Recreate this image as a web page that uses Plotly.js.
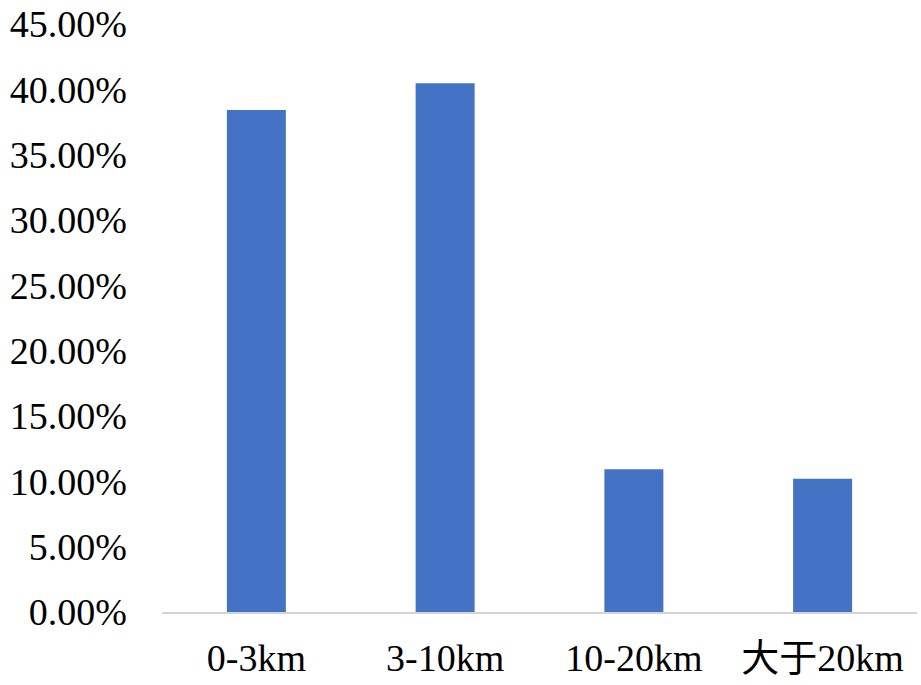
<!DOCTYPE html>
<html>
<head>
<meta charset="utf-8">
<script src="https://cdn.plot.ly/plotly-3.0.1.min.js"></script>
<style>html,body{margin:0;padding:0;background:#fff;}#chart{width:921px;height:685px;}</style>
</head>
<body>
<div id="chart"></div>
<script>
const categories = ["0-3km", "3-10km", "10-20km", "大于20km"];
const shares = [0.3841, 0.4047, 0.1093, 0.1020];
const yTickVals = [0, 0.05, 0.10, 0.15, 0.20, 0.25, 0.30, 0.35, 0.40, 0.45];
const yTickText = ["0.00%", "5.00%", "10.00%", "15.00%", "20.00%", "25.00%", "30.00%", "35.00%", "40.00%", "45.00%"];

const fontFam = '"Liberation Serif", "Times New Roman", "Noto Sans CJK SC", serif';

const trace = {
  type: "bar",
  x: categories,
  y: shares,
  marker: {color: "#4472C4"},
  hoverinfo: "skip"
};

const layout = {
  width: 921,
  height: 685,
  margin: {l: 162, r: 4, t: 23.5, b: 73.3, pad: 0},
  paper_bgcolor: "#ffffff",
  plot_bgcolor: "#ffffff",
  bargap: 0.6875,
  showlegend: false,
  font: {family: fontFam, size: 38, color: "#000000"},
  xaxis: {
    type: "category",
    showgrid: false,
    zeroline: false,
    showline: true,
    linecolor: "#d4d4d4",
    linewidth: 2,
    ticks: "",
    ticklabelstandoff: 11,
    tickfont: {family: fontFam, size: 38, color: "#000000"}
  },
  yaxis: {
    range: [0, 0.45],
    tickvals: yTickVals,
    ticktext: yTickText,
    showgrid: false,
    zeroline: false,
    showline: false,
    ticks: "",
    ticklabelstandoff: 34,
    tickfont: {family: fontFam, size: 38, color: "#000000"}
  }
};

Plotly.newPlot("chart", [trace], layout, {displayModeBar: false, staticPlot: true});
</script>
</body>
</html>
